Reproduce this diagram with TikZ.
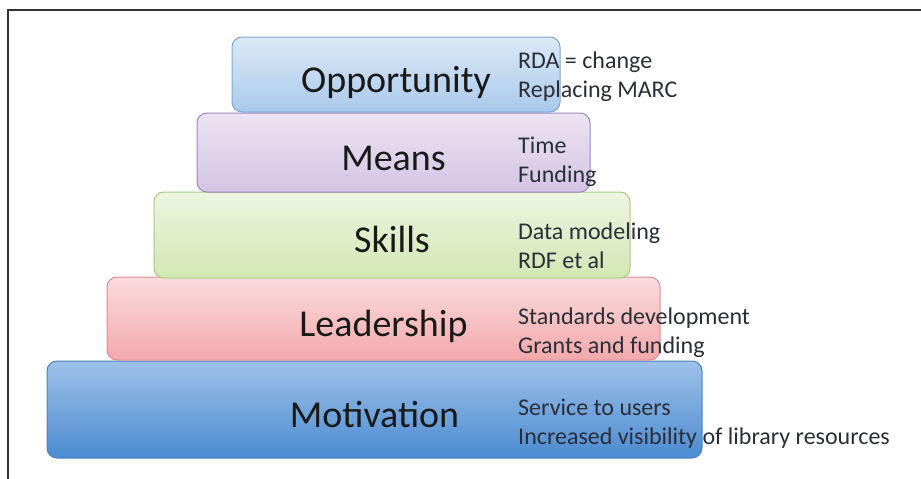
\documentclass[tikz,border=0pt]{standalone}
\usepackage{fontspec}
\setmainfont{Carlito}
\definecolor{oppTop}{HTML}{DCE9F6}
\definecolor{oppBot}{HTML}{A9C9EB}
\definecolor{oppLine}{HTML}{7DA5D0}
\definecolor{meaTop}{HTML}{ECE4F2}
\definecolor{meaBot}{HTML}{D3C4E4}
\definecolor{meaLine}{HTML}{9C88C0}
\definecolor{skiTop}{HTML}{EDF5E0}
\definecolor{skiBot}{HTML}{D2E7B3}
\definecolor{skiLine}{HTML}{A8CA80}
\definecolor{leaTop}{HTML}{FADCDD}
\definecolor{leaBot}{HTML}{F2A8AB}
\definecolor{leaLine}{HTML}{D98F94}
\definecolor{motTop}{HTML}{9EC1E8}
\definecolor{motBot}{HTML}{4B8BD1}
\definecolor{motLine}{HTML}{4C82C5}
\definecolor{noteText}{HTML}{2A2E38}
\begin{document}
\begin{tikzpicture}[
      x=1pt, y=-1pt,
      tier/.style={rectangle, rounded corners=10pt, shade, line width=1pt,
        inner sep=0pt, text height=35pt, text depth=0pt,
        font=\fontsize{38}{42}\selectfont, text=black!90},
      note/.style={anchor=base west, align=left, inner sep=0pt,
        font=\fontsize{24}{29}\selectfont, text=noteText}
    ]
    \useasboundingbox (0,0) rectangle (921,479);
    \draw[line width=1.2pt, black!80] (921,10) -- (8,10) -- (8,479);
    \path (374.5,409.5) node(motiv) [tier, minimum width=655pt, minimum height=97pt,
        top color=motTop, bottom color=motBot, draw=motLine] {Motivation}
    (383.5,318.5) node(lead) [tier, minimum width=553pt, minimum height=83pt,
        top color=leaTop, bottom color=leaBot, draw=leaLine] {Leadership}
    (392,235) node(skills) [tier, minimum width=476pt, minimum height=86pt,
        top color=skiTop, bottom color=skiBot, draw=skiLine] {Skills}
    (393.5,152.5) node(means) [tier, minimum width=393pt, minimum height=79pt,
        top color=meaTop, bottom color=meaBot, draw=meaLine] {Means}
    (396,74.5) node(opp) [tier, minimum width=328pt, minimum height=75pt,
        top color=oppTop, bottom color=oppBot, draw=oppLine] {Opportunity};
    % anchor base = baseline of the last line
    \path (518,97) node(oppnote) [note] {RDA = change\\Replacing MARC}
    (518,182) node(meanote) [note] {Time\\Funding}
    (518,268) node(skinote) [note] {Data modeling\\RDF et al}
    (518,353) node(leanote) [note] {Standards development\\Grants and funding}
    (518,444) node(motnote) [note] {Service to users\\Increased visibility of library resources};
  \end{tikzpicture}
\end{document}
